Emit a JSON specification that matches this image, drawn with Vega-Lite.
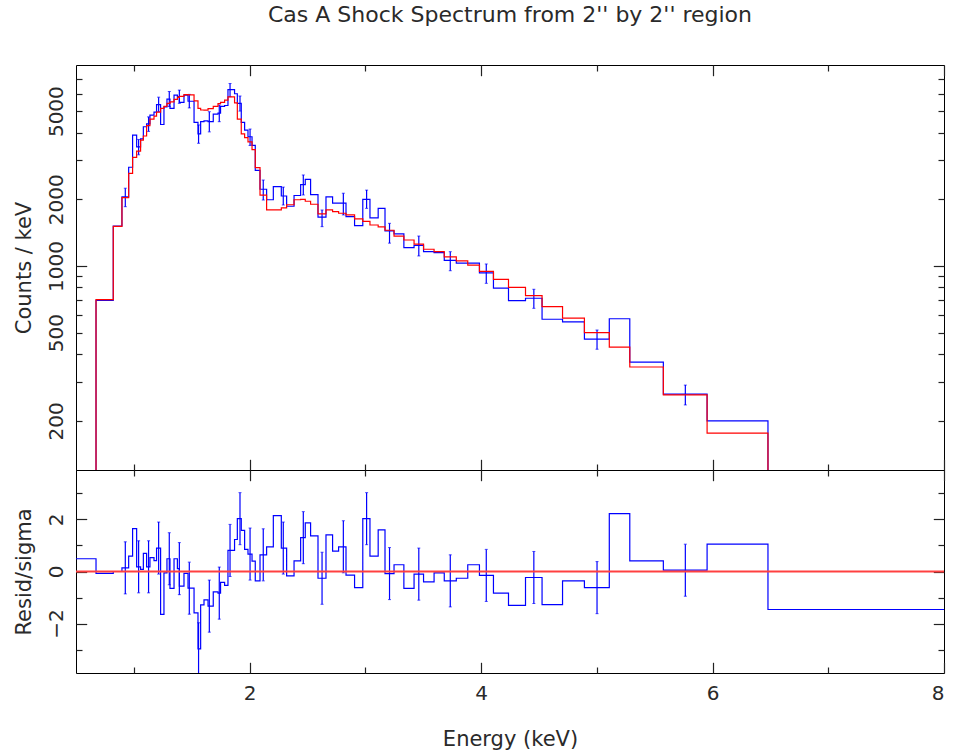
{
  "$schema": "https://vega.github.io/schema/vega-lite/v6.json",
  "background": "white",
  "padding": {"left": 12, "top": 3, "right": 5, "bottom": 5},
  "config": {
    "view": {"stroke": "#000", "strokeWidth": 1},
    "axis": {"grid": false, "domain": false, "tickColor": "#222", "tickWidth": 1.2, "labelFont": "DejaVu Sans", "labelFontSize": 20, "labelColor": "#2a2a2a", "titleFont": "DejaVu Sans", "titleFontSize": 21, "titleFontWeight": "normal", "titleColor": "#2a2a2a"}
  },
  "bounds": "flush",
  "spacing": 0,
  "datasets": {
    "bins": [
      {"e": 0.3, "d": 70, "m": 60, "r": 0.49},
      {"e": 0.673, "d": 700, "m": 705, "r": -0.07},
      {"e": 0.822, "d": 1515, "m": 1510, "r": 0.0},
      {"e": 0.897, "d": 2050, "m": 2035, "r": 0.14},
      {"e": 0.955, "d": 2790, "m": 2620, "r": 0.59},
      {"e": 0.989, "d": 3900, "m": 3090, "r": 1.65},
      {"e": 1.024, "d": 3450, "m": 3300, "r": 0.18},
      {"e": 1.058, "d": 3750, "m": 3700, "r": 0.08},
      {"e": 1.082, "d": 4250, "m": 3860, "r": 0.7},
      {"e": 1.110, "d": 4380, "m": 4300, "r": 0.18},
      {"e": 1.139, "d": 4800, "m": 4600, "r": 0.53},
      {"e": 1.174, "d": 4950, "m": 4750, "r": 0.42},
      {"e": 1.196, "d": 5350, "m": 4950, "r": 0.9},
      {"e": 1.231, "d": 4350, "m": 5150, "r": -1.65},
      {"e": 1.260, "d": 5230, "m": 5250, "r": -0.05},
      {"e": 1.286, "d": 5660, "m": 5420, "r": 0.49},
      {"e": 1.312, "d": 5150, "m": 5500, "r": -0.65},
      {"e": 1.347, "d": 5900, "m": 5650, "r": 0.49},
      {"e": 1.376, "d": 5820, "m": 5770, "r": 0.11},
      {"e": 1.393, "d": 5480, "m": 5830, "r": -0.56},
      {"e": 1.433, "d": 5900, "m": 5930, "r": -0.07},
      {"e": 1.468, "d": 5540, "m": 5920, "r": -0.64},
      {"e": 1.520, "d": 4450, "m": 5560, "r": -1.59},
      {"e": 1.554, "d": 3950, "m": 5150, "r": -2.97},
      {"e": 1.577, "d": 4480, "m": 5060, "r": -1.28},
      {"e": 1.606, "d": 4520, "m": 5050, "r": -1.09},
      {"e": 1.641, "d": 4480, "m": 5130, "r": -1.33},
      {"e": 1.686, "d": 4850, "m": 5250, "r": -0.78},
      {"e": 1.727, "d": 4900, "m": 5400, "r": -0.83},
      {"e": 1.749, "d": 5250, "m": 5480, "r": -0.42},
      {"e": 1.784, "d": 5300, "m": 5600, "r": -0.53},
      {"e": 1.813, "d": 6250, "m": 5800, "r": 0.81},
      {"e": 1.870, "d": 5990, "m": 5450, "r": 1.23},
      {"e": 1.894, "d": 5420, "m": 4600, "r": 2.03},
      {"e": 1.928, "d": 4450, "m": 3950, "r": 1.58},
      {"e": 1.957, "d": 4100, "m": 3800, "r": 0.85},
      {"e": 1.986, "d": 3830, "m": 3630, "r": 0.67},
      {"e": 2.021, "d": 3500, "m": 3350, "r": 0.4},
      {"e": 2.049, "d": 2700, "m": 2780, "r": -0.36},
      {"e": 2.090, "d": 2220, "m": 2090, "r": 0.64},
      {"e": 2.147, "d": 1990, "m": 1790, "r": 0.95},
      {"e": 2.205, "d": 2280, "m": 1790, "r": 2.15},
      {"e": 2.274, "d": 2070, "m": 1830, "r": 0.9},
      {"e": 2.320, "d": 1860, "m": 1890, "r": -0.17},
      {"e": 2.384, "d": 2080, "m": 1990, "r": 0.41},
      {"e": 2.441, "d": 2330, "m": 2000, "r": 1.3},
      {"e": 2.481, "d": 2460, "m": 1960, "r": 1.87},
      {"e": 2.527, "d": 2100, "m": 1900, "r": 1.37},
      {"e": 2.591, "d": 1660, "m": 1720, "r": -0.26},
      {"e": 2.660, "d": 2050, "m": 1790, "r": 1.41},
      {"e": 2.717, "d": 1920, "m": 1760, "r": 0.78},
      {"e": 2.769, "d": 1920, "m": 1730, "r": 0.95},
      {"e": 2.833, "d": 1670, "m": 1700, "r": -0.14},
      {"e": 2.907, "d": 1520, "m": 1630, "r": -0.62},
      {"e": 2.978, "d": 2000, "m": 1590, "r": 2.03},
      {"e": 3.040, "d": 1650, "m": 1531, "r": 0.59},
      {"e": 3.111, "d": 1820, "m": 1500, "r": 1.6},
      {"e": 3.170, "d": 1440, "m": 1450, "r": -0.08},
      {"e": 3.248, "d": 1395, "m": 1365, "r": 0.26},
      {"e": 3.333, "d": 1210, "m": 1310, "r": -0.65},
      {"e": 3.421, "d": 1240, "m": 1255, "r": -0.1},
      {"e": 3.503, "d": 1160, "m": 1190, "r": -0.4},
      {"e": 3.594, "d": 1150, "m": 1160, "r": -0.05},
      {"e": 3.682, "d": 1060, "m": 1100, "r": -0.36},
      {"e": 3.786, "d": 1030, "m": 1055, "r": -0.26},
      {"e": 3.885, "d": 1030, "m": 1010, "r": 0.26},
      {"e": 3.986, "d": 930, "m": 945, "r": -0.15},
      {"e": 4.107, "d": 795, "m": 870, "r": -0.83},
      {"e": 4.237, "d": 697, "m": 800, "r": -1.3},
      {"e": 4.384, "d": 715, "m": 735, "r": -0.23},
      {"e": 4.527, "d": 575, "m": 655, "r": -1.27},
      {"e": 4.704, "d": 560, "m": 582, "r": -0.36},
      {"e": 4.893, "d": 468, "m": 500, "r": -0.62},
      {"e": 5.108, "d": 578, "m": 430, "r": 2.22},
      {"e": 5.285, "d": 368, "m": 350, "r": 0.41},
      {"e": 5.575, "d": 264, "m": 262, "r": 0.05},
      {"e": 5.953, "d": 200, "m": 176, "r": 1.05},
      {"e": 6.479, "d": 60, "m": 80, "r": -1.46},
      {"e": 8.5, "d": 60, "m": 80, "r": -1.46}
    ],
    "errs": [
      {"e": 0.926, "d": 2050, "lo": 1852, "hi": 2244, "r": 0.14, "rlo": -0.86, "rhi": 1.14},
      {"e": 1.041, "d": 3450, "lo": 3175, "hi": 3725, "r": 0.18, "rlo": -0.82, "rhi": 1.18},
      {"e": 1.127, "d": 4380, "lo": 4050, "hi": 4710, "r": 0.18, "rlo": -0.82, "rhi": 1.18},
      {"e": 1.214, "d": 5350, "lo": 4970, "hi": 5780, "r": 0.9, "rlo": -0.1, "rhi": 1.9},
      {"e": 1.306, "d": 5660, "lo": 5245, "hi": 6130, "r": 0.49, "rlo": -0.51, "rhi": 1.49},
      {"e": 1.393, "d": 5820, "lo": 5420, "hi": 6220, "r": 0.11, "rlo": -0.89, "rhi": 1.11},
      {"e": 1.479, "d": 5560, "lo": 5170, "hi": 5950, "r": -0.64, "rlo": -1.64, "rhi": 0.36},
      {"e": 1.559, "d": 3950, "lo": 3580, "hi": 4330, "r": -2.97, "rlo": -3.97, "rhi": -1.97},
      {"e": 1.652, "d": 4480, "lo": 4030, "hi": 4970, "r": -1.33, "rlo": -2.33, "rhi": -0.33},
      {"e": 1.738, "d": 4900, "lo": 4480, "hi": 5330, "r": -0.83, "rlo": -1.83, "rhi": 0.17},
      {"e": 1.831, "d": 6250, "lo": 5810, "hi": 6660, "r": 0.81, "rlo": -0.19, "rhi": 1.81},
      {"e": 1.917, "d": 5420, "lo": 5000, "hi": 5850, "r": 2.03, "rlo": 1.03, "rhi": 3.03},
      {"e": 2.004, "d": 3830, "lo": 3500, "hi": 4150, "r": 0.67, "rlo": -0.33, "rhi": 1.67},
      {"e": 2.118, "d": 2220, "lo": 1985, "hi": 2443, "r": 0.64, "rlo": -0.36, "rhi": 1.64},
      {"e": 2.291, "d": 2070, "lo": 1885, "hi": 2270, "r": 0.9, "rlo": -0.1, "rhi": 1.9},
      {"e": 2.464, "d": 2330, "lo": 2092, "hi": 2575, "r": 1.3, "rlo": 0.3, "rhi": 2.3},
      {"e": 2.626, "d": 1660, "lo": 1505, "hi": 1789, "r": -0.26, "rlo": -1.26, "rhi": 0.74},
      {"e": 2.810, "d": 1920, "lo": 1700, "hi": 2130, "r": 0.95, "rlo": -0.05, "rhi": 1.95},
      {"e": 3.011, "d": 2000, "lo": 1820, "hi": 2200, "r": 2.03, "rlo": 1.03, "rhi": 3.03},
      {"e": 3.209, "d": 1440, "lo": 1268, "hi": 1558, "r": -0.08, "rlo": -1.08, "rhi": 0.92},
      {"e": 3.462, "d": 1240, "lo": 1110, "hi": 1365, "r": -0.1, "rlo": -1.1, "rhi": 0.9},
      {"e": 3.734, "d": 1060, "lo": 952, "hi": 1160, "r": -0.36, "rlo": -1.36, "rhi": 0.64},
      {"e": 4.045, "d": 930, "lo": 835, "hi": 1021, "r": -0.15, "rlo": -1.15, "rhi": 0.85},
      {"e": 4.456, "d": 715, "lo": 644, "hi": 785, "r": -0.23, "rlo": -1.23, "rhi": 0.77},
      {"e": 5.002, "d": 468, "lo": 421, "hi": 514, "r": -0.62, "rlo": -1.62, "rhi": 0.38},
      {"e": 5.765, "d": 264, "lo": 236, "hi": 290, "r": 0.05, "rlo": -0.95, "rhi": 1.05}
    ],
    "zero": [{"e": 0.5, "z": 0}, {"e": 8, "z": 0}]
  },
  "vconcat": [
    {
      "width": 868,
      "height": 405,
      "title": {"text": "Cas A Shock Spectrum from 2'' by 2'' region", "font": "DejaVu Sans", "fontSize": 22, "fontWeight": "normal", "color": "#2a2a2a", "offset": 37, "anchor": "middle", "frame": "group"},
      "resolve": {"axis": {"x": "independent", "y": "independent"}},
      "layer": [
        {
          "data": {"name": "bins"},
          "mark": {"type": "line", "interpolate": "step-after", "stroke": "#0000ff", "strokeWidth": 1.2, "clip": true},
          "encoding": {
            "x": {"field": "e", "type": "quantitative", "scale": {"domain": [0.5, 8], "nice": false, "zero": false},
                  "axis": {"orient": "bottom", "values": [1, 3, 5, 7], "tickSize": -6, "labels": false, "title": null}},
            "y": {"field": "d", "type": "quantitative", "scale": {"type": "log", "domain": [120, 8075], "nice": false},
                  "axis": {"orient": "left", "values": [200, 500, 1000, 2000, 5000], "format": "d", "ticks": false, "labelAngle": -90, "labelAlign": "center", "labelBaseline": "bottom", "labelPadding": 10, "title": "Counts / keV", "titlePadding": 12}}
          }
        },
        {
          "data": {"name": "errs"},
          "mark": {"type": "rule", "stroke": "#0000ff", "strokeWidth": 1.2, "clip": true},
          "encoding": {
            "x": {"field": "e", "type": "quantitative", "scale": {"domain": [0.5, 8], "nice": false, "zero": false},
                  "axis": {"orient": "bottom", "values": [2, 4, 6, 8], "tickSize": -10.7, "labels": false, "title": null}},
            "y": {"field": "lo", "type": "quantitative", "scale": {"type": "log", "domain": [120, 8075], "nice": false},
                  "axis": {"orient": "left", "values": [1000], "tickSize": -10.7, "labels": false, "title": null}},
            "y2": {"field": "hi"}
          }
        },
        {
          "data": {"name": "errs"},
          "mark": {"type": "tick", "orient": "horizontal", "size": 3, "thickness": 1, "color": "#0000ff", "clip": true},
          "encoding": {
            "x": {"field": "e", "type": "quantitative", "scale": {"domain": [0.5, 8], "nice": false, "zero": false},
                  "axis": {"orient": "top", "values": [1, 3, 5, 7], "tickSize": -6, "labels": false, "title": null}},
            "y": {"field": "hi", "type": "quantitative", "scale": {"type": "log", "domain": [120, 8075], "nice": false},
                  "axis": {"orient": "left", "values": [200, 300, 400, 500, 600, 700, 800, 900, 2000, 3000, 4000, 5000, 6000, 7000], "tickSize": -6, "labels": false, "title": null}}
          }
        },
        {
          "data": {"name": "errs"},
          "mark": {"type": "tick", "orient": "horizontal", "size": 3, "thickness": 1, "color": "#0000ff", "clip": true},
          "encoding": {
            "x": {"field": "e", "type": "quantitative", "scale": {"domain": [0.5, 8], "nice": false, "zero": false},
                  "axis": {"orient": "top", "values": [2, 4, 6, 8], "tickSize": -10.7, "labels": false, "title": null}},
            "y": {"field": "lo", "type": "quantitative", "scale": {"type": "log", "domain": [120, 8075], "nice": false},
                  "axis": {"orient": "right", "values": [200, 300, 400, 500, 600, 700, 800, 900, 2000, 3000, 4000, 5000, 6000, 7000], "tickSize": -6, "labels": false, "title": null}}
          }
        },
        {
          "data": {"name": "bins"},
          "mark": {"type": "line", "interpolate": "step-after", "stroke": "#ff0000", "strokeWidth": 1.2, "clip": true},
          "encoding": {
            "x": {"field": "e", "type": "quantitative", "scale": {"domain": [0.5, 8], "nice": false, "zero": false}, "axis": null},
            "y": {"field": "m", "type": "quantitative", "scale": {"type": "log", "domain": [120, 8075], "nice": false},
                  "axis": {"orient": "right", "values": [1000], "tickSize": -10.7, "labels": false, "title": null}}
          }
        }
      ]
    },
    {
      "width": 868,
      "height": 203,
      "resolve": {"axis": {"x": "independent", "y": "independent"}},
      "layer": [
        {
          "data": {"name": "bins"},
          "mark": {"type": "line", "interpolate": "step-after", "stroke": "#0000ff", "strokeWidth": 1.2, "clip": true},
          "encoding": {
            "x": {"field": "e", "type": "quantitative", "scale": {"domain": [0.5, 8], "nice": false, "zero": false},
                  "axis": {"orient": "bottom", "values": [2, 4, 6, 8], "format": "d", "ticks": false, "labelPadding": 10, "title": "Energy (keV)", "titlePadding": 25}},
            "y": {"field": "r", "type": "quantitative", "scale": {"domain": [-3.9, 3.9], "nice": false, "zero": false},
                  "axis": {"orient": "left", "values": [-2, 0, 2], "format": "d", "ticks": false, "labelAngle": -90, "labelAlign": "center", "labelBaseline": "bottom", "labelPadding": 10, "title": "Resid/sigma", "titlePadding": 12}}
          }
        },
        {
          "data": {"name": "errs"},
          "mark": {"type": "rule", "stroke": "#0000ff", "strokeWidth": 1.2, "clip": true},
          "encoding": {
            "x": {"field": "e", "type": "quantitative", "scale": {"domain": [0.5, 8], "nice": false, "zero": false},
                  "axis": {"orient": "bottom", "values": [1, 3, 5, 7], "tickSize": -6, "labels": false, "title": null}},
            "y": {"field": "rlo", "type": "quantitative", "scale": {"domain": [-3.9, 3.9], "nice": false, "zero": false},
                  "axis": {"orient": "left", "values": [-2, 0, 2], "tickSize": -10.7, "labels": false, "title": null}},
            "y2": {"field": "rhi"}
          }
        },
        {
          "data": {"name": "errs"},
          "mark": {"type": "tick", "orient": "horizontal", "size": 3, "thickness": 1, "color": "#0000ff", "clip": true},
          "encoding": {
            "x": {"field": "e", "type": "quantitative", "scale": {"domain": [0.5, 8], "nice": false, "zero": false},
                  "axis": {"orient": "bottom", "values": [2, 4, 6, 8], "tickSize": -10.7, "labels": false, "title": null}},
            "y": {"field": "rhi", "type": "quantitative", "scale": {"domain": [-3.9, 3.9], "nice": false, "zero": false},
                  "axis": {"orient": "left", "values": [-3, -1, 1, 3], "tickSize": -6, "labels": false, "title": null}}
          }
        },
        {
          "data": {"name": "errs"},
          "mark": {"type": "tick", "orient": "horizontal", "size": 3, "thickness": 1, "color": "#0000ff", "clip": true},
          "encoding": {
            "x": {"field": "e", "type": "quantitative", "scale": {"domain": [0.5, 8], "nice": false, "zero": false},
                  "axis": {"orient": "top", "values": [1, 3, 5, 7], "tickSize": -6, "labels": false, "title": null}},
            "y": {"field": "rlo", "type": "quantitative", "scale": {"domain": [-3.9, 3.9], "nice": false, "zero": false},
                  "axis": {"orient": "right", "values": [-2, 0, 2], "tickSize": -10.7, "labels": false, "title": null}}
          }
        },
        {
          "data": {"name": "zero"},
          "mark": {"type": "line", "stroke": "#ff4040", "strokeWidth": 2, "opacity": 1, "clip": true},
          "encoding": {
            "x": {"field": "e", "type": "quantitative", "scale": {"domain": [0.5, 8], "nice": false, "zero": false},
                  "axis": {"orient": "top", "values": [2, 4, 6, 8], "tickSize": -10.7, "labels": false, "title": null}},
            "y": {"field": "z", "type": "quantitative", "scale": {"domain": [-3.9, 3.9], "nice": false, "zero": false},
                  "axis": {"orient": "right", "values": [-3, -1, 1, 3], "tickSize": -6, "labels": false, "title": null}}
          }
        }
      ]
    }
  ]
}
